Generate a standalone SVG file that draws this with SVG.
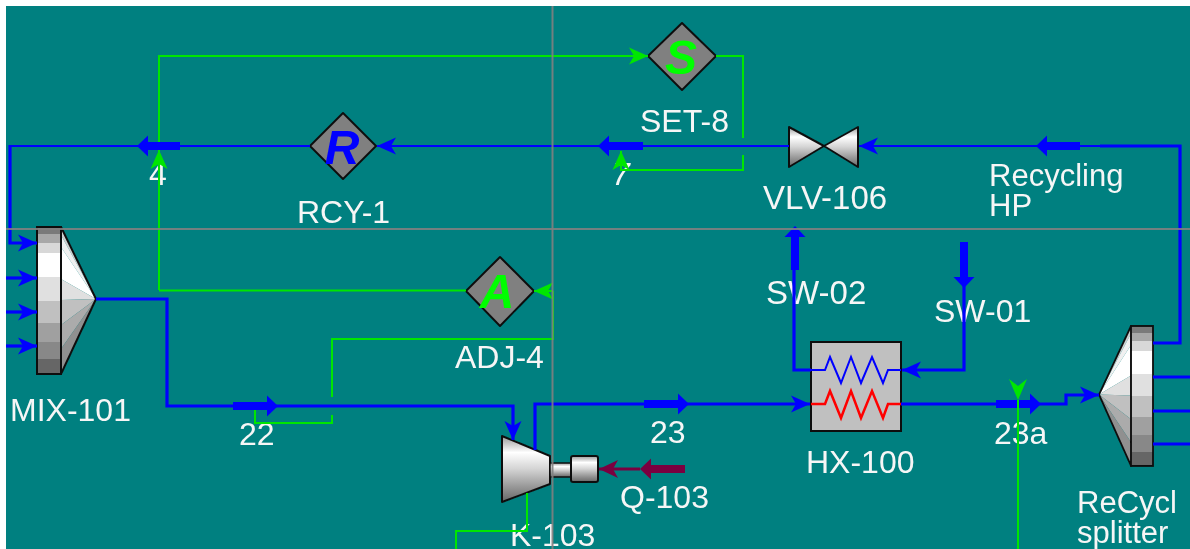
<svg xmlns="http://www.w3.org/2000/svg" width="1190" height="549" viewBox="0 0 1190 549">
<style>
text{font-family:"Liberation Sans",Arial,sans-serif;font-size:32px;fill:#f6f6f6}
.wide{font-size:33px}
.letter{font-weight:bold;font-style:italic;font-size:48px;text-anchor:middle}
.dia{fill:#808080;stroke:#111;stroke-width:2;stroke-linejoin:round}
.edge{fill:none;stroke:#111;stroke-width:2;stroke-linejoin:round}
.b,.b3,.g,.m,.bt,.mt{fill:none}
.b{stroke:#0000ff;stroke-width:2.2}
.b3{stroke:#0000ff;stroke-width:3.2}
.g{stroke:#00e600;stroke-width:2}
.m{stroke:#7a0040;stroke-width:3}
.bt{stroke:#0000ff;stroke-width:8}
.mt{stroke:#7a0040;stroke-width:8}
.cross{stroke:#808080;stroke-width:2;opacity:.9}
</style>
<defs>
<filter id="soft" filterUnits="userSpaceOnUse" x="0" y="0" width="1190" height="549"><feGaussianBlur stdDeviation="0.45"/></filter>
<marker id="ab" markerUnits="userSpaceOnUse" markerWidth="22" markerHeight="20" viewBox="0 -10 22 20" refX="20" refY="0" orient="auto"><path d="M1,-8.5 L20,0 L1,8.5 L6,0Z" fill="#0000ff"/></marker>
<marker id="ag" markerUnits="userSpaceOnUse" markerWidth="22" markerHeight="20" viewBox="0 -10 22 20" refX="20" refY="0" orient="auto"><path d="M1,-8.5 L20,0 L1,8.5 L6,0Z" fill="#00e600"/></marker>
<marker id="am" markerUnits="userSpaceOnUse" markerWidth="22" markerHeight="22" viewBox="0 -11 22 22" refX="20" refY="0" orient="auto"><path d="M1,-9 L20,0 L1,9 L6,0Z" fill="#7a0040"/></marker>
<marker id="hb" markerUnits="userSpaceOnUse" markerWidth="14" markerHeight="24" viewBox="0 -12 14 24" refX="0" refY="0" orient="auto"><path d="M0,-10.5 L11,0 L0,10.5Z" fill="#0000ff"/></marker>
<marker id="hm" markerUnits="userSpaceOnUse" markerWidth="14" markerHeight="24" viewBox="0 -12 14 24" refX="0" refY="0" orient="auto"><path d="M0,-10.5 L11,0 L0,10.5Z" fill="#7a0040"/></marker>
<linearGradient id="band" x1="0" y1="0" x2="0" y2="1">
<stop offset="0" stop-color="#7a7a7a"/><stop offset=".05" stop-color="#7a7a7a"/><stop offset=".05" stop-color="#a8a8a8"/><stop offset=".11" stop-color="#a8a8a8"/><stop offset=".11" stop-color="#d8d8d8"/><stop offset=".18" stop-color="#d8d8d8"/><stop offset=".18" stop-color="#fff"/><stop offset=".34" stop-color="#fff"/><stop offset=".34" stop-color="#e0e0e0"/><stop offset=".5" stop-color="#e0e0e0"/><stop offset=".5" stop-color="#c0c0c0"/><stop offset=".65" stop-color="#c0c0c0"/><stop offset=".65" stop-color="#a0a0a0"/><stop offset=".78" stop-color="#a0a0a0"/><stop offset=".78" stop-color="#888"/><stop offset=".9" stop-color="#888"/><stop offset=".9" stop-color="#666"/><stop offset="1" stop-color="#666"/>
</linearGradient>
<linearGradient id="smooth" x1="0" y1="0" x2="0" y2="1">
<stop offset="0" stop-color="#9a9a9a"/><stop offset=".25" stop-color="#fff"/><stop offset=".5" stop-color="#d4d4d4"/><stop offset=".75" stop-color="#9c9c9c"/><stop offset="1" stop-color="#666"/>
</linearGradient>
<g id="mixshape">
<polygon points="24,0 24,8 59,72" fill="#d0d0d0"/>
<polygon points="24,8 24,20 59,72" fill="#f0f0f0"/>
<polygon points="24,20 24,52 59,72" fill="#fff"/>
<polygon points="24,52 24,73 59,72" fill="#e0e0e0"/>
<polygon points="24,73 24,98 59,72" fill="#c0c0c0"/>
<polygon points="24,98 24,122 59,72" fill="#ababab"/>
<polygon points="24,122 24,147 59,72" fill="#909090"/>
<polygon class="edge" points="24,0 59,72 24,147"/>
<rect x="0" y="0" width="24" height="147" fill="url(#band)" stroke="#111" stroke-width="2"/>
</g>
</defs>

<rect x="0" y="0" width="1190" height="549" fill="#fff"/>
<rect x="6" y="6" width="1184" height="543" fill="#008080"/>

<g filter="url(#soft)">
<g id="MIX-101"><use href="#mixshape" transform="translate(37,227)"/><text x="10" y="421">MIX-101</text></g>
<g id="RCY-1"><polygon class="dia" points="343,113 376,146 343,179 310,146"/><text class="letter" x="342" y="164" style="fill:#0000ff">R</text><text x="297" y="223">RCY-1</text></g>
<g id="SET-8"><polygon class="dia" points="682,23 716,56 682,90 648,56"/><text class="letter" x="681" y="74" style="fill:#00ff00">S</text><text x="640" y="132">SET-8</text></g>
<g id="ADJ-4"><polygon class="dia" points="500,257 534,291 500,326 466,291"/><text class="letter" x="497" y="308" style="fill:#00ff00">A</text><text x="455" y="368">ADJ-4</text></g>
<g id="VLV-106"><polygon points="789,127 824,146 789,167" fill="url(#smooth)" stroke="#111" stroke-width="2" stroke-linejoin="round"/><polygon points="858,127 824,146 858,167" fill="url(#smooth)" stroke="#111" stroke-width="2" stroke-linejoin="round"/><text class="wide" x="763" y="209">VLV-106</text></g>
<g id="K-103"><polygon points="502,436 550,456 550,484 502,502" fill="url(#smooth)" stroke="#111" stroke-width="2" stroke-linejoin="round"/><rect x="550" y="463" width="21" height="14" fill="url(#smooth)" stroke="#111" stroke-width="1.500"/><rect x="571" y="456" width="27" height="26" rx="2" fill="url(#smooth)" stroke="#111" stroke-width="2"/><text x="510" y="546">K-103</text></g>
<g id="HX-100"><rect x="811" y="342" width="90" height="89" fill="#c0c0c0" stroke="#111" stroke-width="2"/><polyline points="811,370 825,370 830,357 841,383 851,357 861,383 872,357 883,383 888,370 901,370" fill="none" stroke="#0000ff" stroke-width="2"/><polyline points="811,404 825,404 830,391 841,418 851,391 861,418 872,391 883,418 888,404 901,404" fill="none" stroke="#ff0000" stroke-width="2.500"/><text x="806" y="473">HX-100</text></g>
<g id="ReCycl-splitter"><use href="#mixshape" transform="translate(1153,326) scale(-.915,.952)"/><text x="1077" y="513" style="font-size:31px">ReCycl</text><text x="1077" y="543" style="font-size:31px">splitter</text></g>

<g id="stream-labels">
<text x="149" y="185">4</text><text x="612" y="185" font-style="italic">7</text><text x="989" y="186" style="font-size:31px">Recycling</text><text x="989" y="216" style="font-size:31px">HP</text><text class="wide" x="766" y="304">SW-02</text><text x="934" y="322">SW-01</text><text x="239" y="445">22</text><text x="650" y="443">23</text><text x="994" y="444">23a</text><text x="620" y="508">Q-103</text>
</g>

<g id="connectors">
<polyline class="g" points="159,290 159,56 648,56" marker-end="url(#ag)"/>
<polyline class="g" points="159,290 159,150" marker-end="url(#ag)"/>
<line class="g" x1="159" y1="290.500" x2="466" y2="290.500"/>
<polyline class="g" points="716,56 743,56 743,138"/>
<polyline class="g" points="743,155 743,170 621,170 621,151" marker-end="url(#ag)"/>
<polyline class="g" points="553,291 534,291" marker-end="url(#ag)"/>
<polyline class="g" points="553,291 553,339 332,339 332,397"/>
<polyline class="g" points="332,415 332,423 255,423 255,410"/>
<polyline class="g" points="527,493 527,531 456,531 456,549"/>

<polyline class="b3" points="96,299 167,299 167,406 513,406 513,440" marker-end="url(#ab)"/>
<line class="bt" x1="233" y1="406" x2="267" y2="406" marker-end="url(#hb)"/>
<polyline class="b3" points="535,450 535,404 810,404" marker-end="url(#ab)"/>
<line class="bt" x1="644" y1="404" x2="678" y2="404" marker-end="url(#hb)"/>
<polyline class="b3" points="901,404 1066,404 1066,395 1099,395" marker-end="url(#ab)"/>
<line class="bt" x1="996" y1="404" x2="1030" y2="404" marker-end="url(#hb)"/>
<polyline class="b3" points="1153,343 1180,343 1180,146 1100,146"/>
<line class="b" x1="1100" y1="146" x2="859" y2="146" marker-end="url(#ab)"/>
<line class="bt" x1="1080" y1="146" x2="1047" y2="146" marker-end="url(#hb)"/>
<line class="b" x1="789" y1="146" x2="377" y2="146" marker-end="url(#ab)"/>
<line class="bt" x1="643" y1="146" x2="609" y2="146" marker-end="url(#hb)"/>
<polyline class="b" points="310,146 11,146"/>
<line class="bt" x1="180" y1="146" x2="148" y2="146" marker-end="url(#hb)"/>
<polyline class="b3" points="10,145 10,243 37,243" marker-end="url(#ab)"/>
<line class="b3" x1="6" y1="278" x2="37" y2="278" marker-end="url(#ab)"/>
<line class="b3" x1="6" y1="312" x2="37" y2="312" marker-end="url(#ab)"/>
<line class="b3" x1="6" y1="346" x2="37" y2="346" marker-end="url(#ab)"/>
<polyline class="b3" points="811,370 794,370 794,260"/>
<line class="bt" x1="795" y1="270" x2="795" y2="237" marker-end="url(#hb)"/>
<line class="bt" x1="964" y1="242" x2="964" y2="277" marker-end="url(#hb)"/>
<polyline class="b3" points="964,280 964,370 902,370" marker-end="url(#ab)"/>
<line class="b3" x1="1153" y1="377" x2="1190" y2="377"/>
<line class="b3" x1="1153" y1="411" x2="1190" y2="411"/>
<line class="b3" x1="1153" y1="444" x2="1190" y2="444"/>
<line class="m" x1="640" y1="469" x2="599" y2="469" marker-end="url(#am)"/>
<line class="mt" x1="685" y1="469" x2="651" y2="469" marker-end="url(#hm)"/>
<polyline class="g" points="1018,549 1018,400"/>
<path d="M1009,379 L1018,400 L1027,379 L1018,386Z" fill="#00e600"/>
</g>

<g id="crosshair">
<line class="cross" x1="552.500" y1="6" x2="552.500" y2="549"/>
<line class="cross" x1="6" y1="229" x2="1190" y2="229"/>
</g>
</g>
</svg>
